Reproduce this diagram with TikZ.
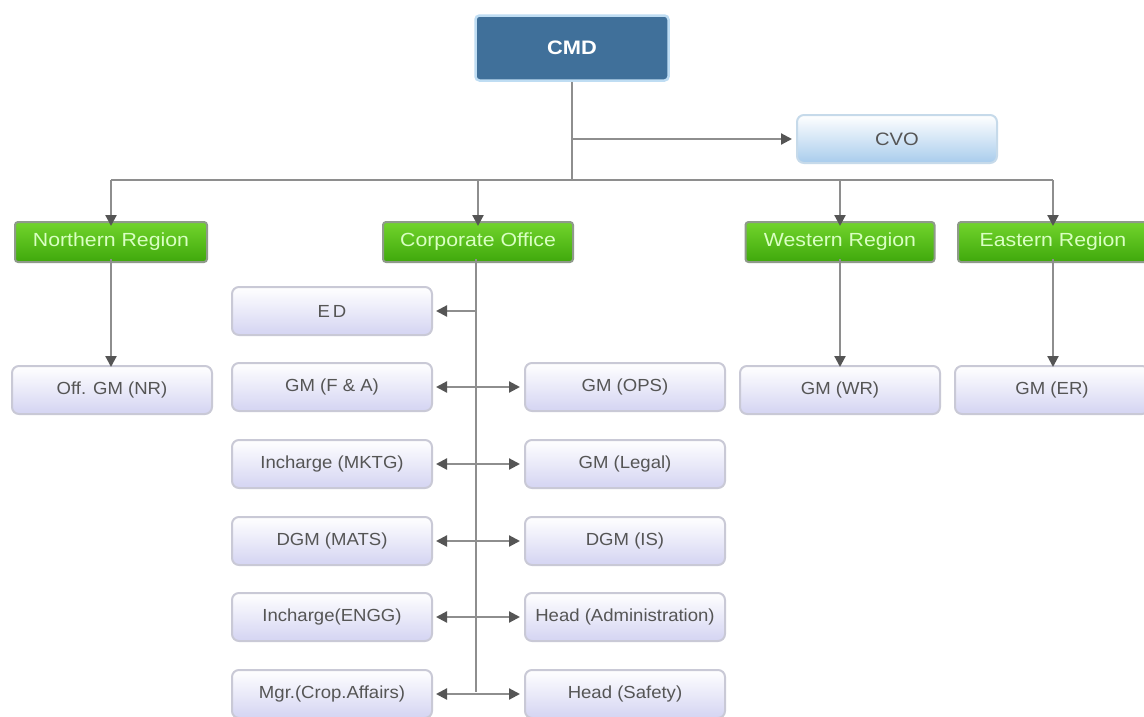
\documentclass[tikz,border=0pt]{standalone}
\usepackage{fontspec}
\setmainfont{Liberation Sans}
\newfontfamily\topfont[FakeStretch=1.12]{Liberation Sans}
\newfontfamily\lowfont[FakeStretch=1.06]{Liberation Sans}
\usetikzlibrary{arrows.meta}
\definecolor{cmdfill}{HTML}{40709A}
\definecolor{cmdedge}{HTML}{BFDDF3}
\definecolor{cvob}{HTML}{A8CCEC}
\definecolor{cvoedge}{HTML}{C6DAEA}
\definecolor{g1}{HTML}{72D42C}
\definecolor{g2}{HTML}{3FA80C}
\definecolor{gtxt}{HTML}{D9FFC2}
\definecolor{gedge}{HTML}{8F9A8A}
\definecolor{lavb}{HTML}{D4D4F2}
\definecolor{lavedge}{HTML}{C9C9D6}
\definecolor{txtg}{HTML}{555555}
\definecolor{linec}{HTML}{8E8E8E}
\definecolor{tipc}{HTML}{555555}
\tikzset{
  cmdbox/.style={rounded corners=4pt, fill=cmdfill, draw=cmdedge, line width=2.5pt,
    minimum width=193pt, minimum height=65pt, text=white, font=\topfont\fontsize{19.5}{22}\selectfont\bfseries},
  cvobox/.style={rounded corners=7pt, top color=white, bottom color=cvob, draw=cvoedge, line width=2pt,
    minimum width=200pt, minimum height=48pt, text=txtg, font=\topfont\fontsize{18}{21}\selectfont},
  regbox/.style={rounded corners=3pt, top color=g1, bottom color=g2, draw=gedge, line width=2pt,
    minimum width=192pt, minimum height=40pt, text=gtxt, font=\topfont\fontsize{19}{22}\selectfont},
  lavbox/.style={rounded corners=7pt, top color=white, bottom color=lavb, draw=lavedge, line width=2pt,
    minimum width=200pt, minimum height=48pt, text=txtg, font=\lowfont\fontsize{17.5}{20}\selectfont},
  conn/.style={draw=linec, line width=2.2pt},
  arr/.style={conn, -{Triangle[length=11pt,width=11pt,color=tipc]}},
  darr/.style={conn, {Triangle[length=11pt,width=11pt,color=tipc]}-{Triangle[length=11pt,width=11pt,color=tipc]}},
}
\begin{document}
\begin{tikzpicture}[x=1pt,y=-1pt]
\useasboundingbox[fill=white] (0,0) rectangle (1144,716);
% top
\node[cmdbox] (cmd) at (572,48) {CMD};
\node[cvobox] (cvo) at (897,139) {CVO};
% regions
\node[regbox] (nr) at (111,242) {Northern Region};
\node[regbox, minimum width=190pt] (co) at (478,242) {Corporate Office};
\node[regbox, minimum width=189pt] (wr) at (840,242) {Western Region};
\node[regbox, minimum width=190pt] (er) at (1053,242) {Eastern Region};
% region children
\node[lavbox] (gmnr) at (112,390) {Off. GM (NR)};
\node[lavbox] (gmwr) at (840,390) {GM (WR)};
\node[lavbox, minimum width=194pt] (gmer) at (1052,390) {GM (ER)};
% corporate office
\node[lavbox] (ed) at (332,311) {E\,D};
\node[lavbox] (l1) at (332,387) {GM (F \& A)};
\node[lavbox] (l2) at (332,464) {Incharge (MKTG)};
\node[lavbox] (l3) at (332,541) {DGM (MATS)};
\node[lavbox] (l4) at (332,617) {Incharge(ENGG)};
\node[lavbox] (l5) at (332,694) {Mgr.(Crop.Affairs)};
\node[lavbox] (r1) at (625,387) {GM (OPS)};
\node[lavbox] (r2) at (625,464) {GM (Legal)};
\node[lavbox] (r3) at (625,541) {DGM (IS)};
\node[lavbox] (r4) at (625,617) {Head (Administration)};
\node[lavbox] (r5) at (625,694) {Head (Safety)};
% connectors
\coordinate (busl) at (111,180);
\coordinate (busr) at (1053,180);
\coordinate (spine) at (476,692);
\draw[conn] (cmd.south) -- (cmd.south |- busl);
\draw[arr] (cmd.south |- cvo.west) -- ([xshift=-4pt]cvo.west);
\draw[conn] (busl) -- (busr);
\draw[arr] (busl) -- ([yshift=-5pt]nr.north);
\draw[arr] (co.north |- busl) -- ([yshift=-5pt]co.north);
\draw[arr] (wr.north |- busl) -- ([yshift=-5pt]wr.north);
\draw[arr] (busr) -- ([yshift=-5pt]er.north);
\draw[arr] ([yshift=4pt]nr.south) -- ([yshift=-2pt]nr.south |- gmnr.north);
\draw[arr] ([yshift=4pt]wr.south) -- ([yshift=-2pt]wr.south |- gmwr.north);
\draw[arr] ([yshift=4pt]er.south) -- ([yshift=-2pt]er.south |- gmer.north);
\draw[conn] ([xshift=-2pt,yshift=4pt]co.south) -- (spine);
\draw[arr] (spine |- ed.east) -- ([xshift=3pt]ed.east);
\foreach \i in {1,...,5}{
  \draw[darr, shorten <=3pt, shorten >=4pt] (l\i.east) -- (r\i.west);
}
\end{tikzpicture}
\end{document}
